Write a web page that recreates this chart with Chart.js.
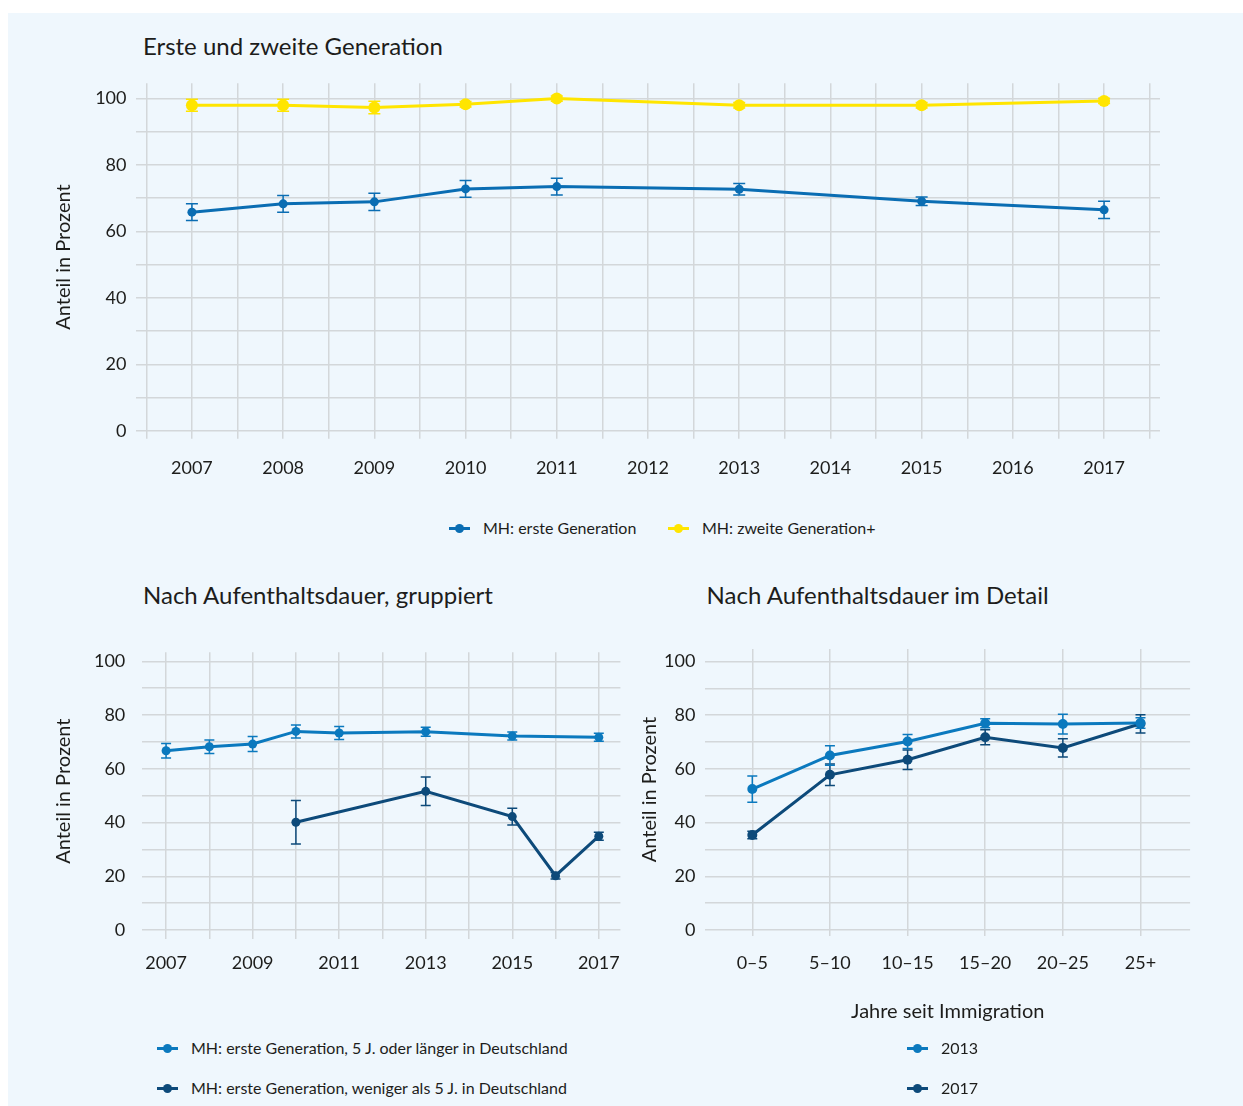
<!DOCTYPE html>
<html><head><meta charset="utf-8">
<script src="https://cdn.jsdelivr.net/npm/chart.js@4.4.1/dist/chart.umd.min.js"></script>
<style>
html,body{margin:0;padding:0;background:#fff;width:1243px;height:1106px;overflow:hidden;font-family:Lato,sans-serif;color:#1d1d1b}
#panel{position:absolute;left:8px;top:13px;width:1235px;height:1093px;background:#eff7fd}
canvas{position:absolute}
.title{position:absolute;font-size:24px;line-height:30px;white-space:nowrap}
.leg{position:absolute;display:flex;align-items:center;height:20px;font-size:16px;line-height:20px;white-space:nowrap}
.mk{position:relative;width:21px;height:20px;margin-right:13px;flex:none}
.mk i{position:absolute;left:0;right:0;top:9px;height:2.5px}
.mk b{position:absolute;left:6px;top:5.5px;width:9px;height:9px;border-radius:50%}
</style></head>
<body>
<div id="panel"></div>
<div class="title" style="left:143px;top:30.7px">Erste und zweite Generation</div>
<div class="title" style="left:143px;top:579.7px">Nach Aufenthaltsdauer, gruppiert</div>
<div class="title" style="left:706.6px;top:579.7px">Nach Aufenthaltsdauer im Detail</div>

<canvas id="c1" width="1200" height="440" style="left:0;top:60px"></canvas>
<canvas id="c2" width="640" height="380" style="left:0;top:620px"></canvas>
<canvas id="c3" width="623" height="420" style="left:620px;top:620px"></canvas>

<div class="leg" style="left:449px;top:518px"><span class="mk"><i style="background:#0a6db3"></i><b style="background:#0a6db3"></b></span>MH: erste Generation</div>
<div class="leg" style="left:668px;top:518px"><span class="mk"><i style="background:#ffe500"></i><b style="background:#ffe500"></b></span>MH: zweite Generation+</div>
<div class="leg" style="left:157px;top:1038px"><span class="mk"><i style="background:#0b79be"></i><b style="background:#0b79be"></b></span>MH: erste Generation, 5 J. oder länger in Deutschland</div>
<div class="leg" style="left:157px;top:1078px"><span class="mk"><i style="background:#0d4a7a"></i><b style="background:#0d4a7a"></b></span>MH: erste Generation, weniger als 5 J. in Deutschland</div>
<div class="leg" style="left:907px;top:1038px"><span class="mk"><i style="background:#0b79be"></i><b style="background:#0b79be"></b></span>2013</div>
<div class="leg" style="left:907px;top:1078px"><span class="mk"><i style="background:#0d4a7a"></i><b style="background:#0d4a7a"></b></span>2017</div>

<script>
// ---------- DATA ----------
// Chart 1: Erste und zweite Generation
const gen1Years   = [2007, 2008, 2009, 2010, 2011, 2013, 2015, 2017];
const gen1Values  = [65.8, 68.3, 68.9, 72.8, 73.5, 72.7, 69.1, 66.5];
const gen1Errors  = [2.5, 2.5, 2.6, 2.5, 2.5, 1.7, 1.3, 2.6];
const gen2Values  = [98.0, 98.0, 97.3, 98.3, 100.0, 98.0, 98.0, 99.3];
const gen2Errors  = [1.8, 1.8, 1.9, 0.8, 0.8, 0.8, 0.8, 0.8];
const chart1GridYears = [2006.5, 2007, 2007.5, 2008, 2008.5, 2009, 2009.5, 2010, 2010.5, 2011, 2011.5,
                         2012, 2012.5, 2013, 2013.5, 2014, 2014.5, 2015, 2015.5, 2016, 2016.5, 2017, 2017.5];
const chart1TickLabels = ['2007','2008','2009','2010','2011','2012','2013','2014','2015','2016','2017'];

// Chart 2: Nach Aufenthaltsdauer, gruppiert
const longYears   = [2007, 2008, 2009, 2010, 2011, 2013, 2015, 2017];
const longValues  = [66.7, 68.2, 69.2, 73.9, 73.3, 73.8, 72.2, 71.7];
const longErrors  = [2.7, 2.5, 2.8, 2.4, 2.4, 1.7, 1.5, 1.5];
const shortYears  = [2010, 2013, 2015, 2016, 2017];
const shortValues = [40.1, 51.6, 42.2, 20.2, 34.9];
const shortErrors = [8.1, 5.3, 3.1, 1.2, 1.5];
const chart2GridYears = [2007, 2008, 2009, 2010, 2011, 2012, 2013, 2014, 2015, 2016, 2017];
const chart2TickLabels = ['2007','2009','2011','2013','2015','2017'];

// Chart 3: Nach Aufenthaltsdauer im Detail
const stayCategories = ['0–5', '5–10', '10–15', '15–20', '20–25', '25+'];
const values2013 = [52.5, 65.0, 70.2, 77.0, 76.7, 77.1];
const errors2013 = [4.9, 3.6, 2.6, 1.7, 3.7, 2.0];
const values2017 = [35.4, 57.8, 63.4, 71.8, 67.8, 76.8];
const errors2017 = [1.4, 4.0, 3.6, 2.8, 3.4, 3.4];

// Y axis (all charts)
const yGridValues = [0, 10, 20, 30, 40, 50, 60, 70, 80, 90, 100];
const yTickLabels = ['0', '20', '40', '60', '80', '100'];

// ---------- STYLE ----------
const BLUE1 = '#0a6db3', YELLOW = '#ffe500', BLUE2 = '#0b79be', NAVY = '#0d4a7a';
const GRID = '#d3d7da', TEXT = '#1d1d1b';

const errorBarPlugin = {
  id: 'errorBars',
  beforeDatasetDraw(chart, args) {
    const ds = chart.data.datasets[args.index];
    if (!ds.errors) return;
    const xs = chart.scales.x, ys = chart.scales.y, ctx = chart.ctx;
    ctx.save();
    ctx.strokeStyle = ds.borderColor;
    ctx.lineWidth = 1.5;
    const w = ds.capHalf || 5;
    ds.data.forEach((p, i) => {
      const e = ds.errors[i];
      const x = xs.getPixelForValue(p.x);
      const yT = ys.getPixelForValue(p.y + e);
      const yB = ys.getPixelForValue(p.y - e);
      ctx.beginPath();
      ctx.moveTo(x, yT); ctx.lineTo(x, yB);
      ctx.moveTo(x - w, yT); ctx.lineTo(x + w, yT);
      ctx.moveTo(x - w, yB); ctx.lineTo(x + w, yB);
      ctx.stroke();
    });
    ctx.restore();
  }
};

function pts(xs, ys) { return xs.map((x, i) => ({x: x, y: ys[i]})); }

function series(label, xs, ys, errs, color, radius, cap) {
  return {
    label: label, data: pts(xs, ys), errors: errs, capHalf: cap,
    borderColor: color, backgroundColor: color, borderWidth: 3,
    pointRadius: radius, pointHoverRadius: radius, pointBackgroundColor: color,
    pointBorderWidth: 0, tension: 0, fill: false
  };
}

function yScale(max, width, labelPad, titlePadTop) {
  return {
    type: 'linear', min: 0, max: max,
    afterBuildTicks: s => { s.ticks = yGridValues.map(v => ({value: v})); },
    afterFit: s => { s.width = width; },
    grid: {color: GRID, lineWidth: 1.5, drawTicks: false},
    border: {display: false},
    ticks: {padding: labelPad, font: {size: 18}, color: TEXT, autoSkip: false,
      callback: v => yTickLabels.includes(String(v)) ? String(v) : ''},
    title: {display: true, text: 'Anteil in Prozent', font: {size: 20}, color: TEXT,
      padding: {top: titlePadTop, bottom: 0}}
  };
}

function xScale(min, max, gridVals, height, tickLen, labelPad, labelFn, title) {
  const sc = {
    type: 'linear', min: min, max: max,
    afterBuildTicks: s => { s.ticks = gridVals.map(v => ({value: v})); },
    afterFit: s => { s.height = height; },
    grid: {color: GRID, lineWidth: 1.5, drawTicks: true, tickLength: tickLen},
    border: {display: false},
    ticks: {autoSkip: false, maxRotation: 0, minRotation: 0, padding: labelPad,
      font: {size: 18}, color: TEXT, callback: labelFn}
  };
  if (title) sc.title = {display: true, text: title, font: {size: 20}, color: TEXT, padding: {top: 0, bottom: 0}};
  return sc;
}

function baseOptions(padding, scales) {
  return {
    responsive: false, animation: false, devicePixelRatio: 1,
    layout: {padding: padding},
    plugins: {legend: {display: false}, tooltip: {enabled: false}},
    scales: scales
  };
}

function draw() {
  Chart.defaults.font.family = 'Lato, sans-serif';
  Chart.defaults.color = TEXT;

  new Chart(document.getElementById('c1'), {
    type: 'line',
    data: {datasets: [
      series('MH: erste Generation', gen1Years, gen1Values, gen1Errors, BLUE1, 4.5, 6),
      series('MH: zweite Generation+', gen1Years, gen2Values, gen2Errors, YELLOW, 6, 6)
    ]},
    options: baseOptions({top: 23.3, right: 40, left: 0, bottom: 0}, {
      x: xScale(2006.387, 2017.613, chart1GridYears, 69.3, 8, 18.5,
        v => chart1TickLabels.includes(String(v)) ? String(v) : ''),
      y: yScale(104.6, 136, 9.5, 51.3)
    }),
    plugins: [errorBarPlugin]
  });

  new Chart(document.getElementById('c2'), {
    type: 'line',
    data: {datasets: [
      series('MH: erste Generation, 5 J. oder länger in Deutschland', longYears, longValues, longErrors, BLUE2, 4.5, 5),
      series('MH: erste Generation, weniger als 5 J. in Deutschland', shortYears, shortValues, shortErrors, NAVY, 4.5, 5)
    ]},
    options: baseOptions({top: 32.3, right: 19.6, left: 0, bottom: 0}, {
      x: xScale(2006.434, 2017.499, chart2GridYears, 70, 9, 13.5,
        v => chart2TickLabels.includes(String(v)) ? String(v) : ''),
      y: yScale(103.35, 141.6, 16.3, 51.3)
    }),
    plugins: [errorBarPlugin]
  });

  const catIdx = stayCategories.map((c, i) => i);
  new Chart(document.getElementById('c3'), {
    type: 'line',
    data: {datasets: [
      series('2013', catIdx, values2013, errors2013, BLUE2, 5, 5),
      series('2017', catIdx, values2017, errors2017, NAVY, 5, 5)
    ]},
    options: baseOptions({top: 29, right: 52.9, left: 0, bottom: 16.3}, {
      x: xScale(-0.604, 5.639, catIdx, 93.7, 6, 16.5,
        v => stayCategories[v] !== undefined ? stayCategories[v] : '', 'Jahre seit Immigration'),
      y: yScale(104.66, 85.4, 10, 17.8)
    }),
    plugins: [errorBarPlugin]
  });
}

if (document.fonts && document.fonts.load) {
  Promise.all([document.fonts.load('18px Lato'), document.fonts.load('24px Lato')]).then(draw, draw);
} else { draw(); }
</script>
</body></html>
